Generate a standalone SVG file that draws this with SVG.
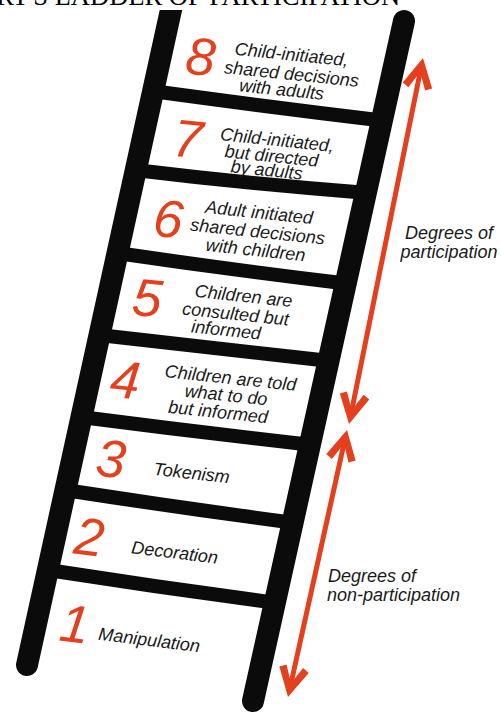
<svg xmlns="http://www.w3.org/2000/svg" width="501" height="718" viewBox="0 0 501 718">
<defs>
<style>
.rail{stroke:#0b0b0b;stroke-width:22;stroke-linecap:round;fill:none}
.rung{stroke:#0b0b0b;stroke-width:14;fill:none;stroke-linecap:butt}
.num{font-family:"Liberation Sans",Arial,sans-serif;font-style:italic;font-size:53px;fill:#e4401e;text-anchor:middle}
.txt{font-family:"Liberation Sans",Arial,sans-serif;font-style:italic;font-size:18px;fill:#1a1a1a;text-anchor:middle}
.lbl{font-family:"Liberation Sans",Arial,sans-serif;font-style:italic;font-size:18px;fill:#1a1a1a}
.arrow{stroke:#e4401e;stroke-width:5;fill:none;marker-start:url(#head);marker-end:url(#head)}
.title{font-family:"Liberation Serif","Times New Roman",serif;font-size:26.5px;fill:#000}
</style>
<marker id="head" viewBox="-34 -17 36 34" markerWidth="36" markerHeight="34" refX="-7" refY="0" orient="auto-start-reverse" markerUnits="userSpaceOnUse">
<polygon points="0,0 -28,-15 -31.5,-8.5 -14,0 -31.5,8.5 -28,15" fill="#e4401e"/>
</marker>
<clipPath id="clipTop"><rect x="0" y="10" width="501" height="708"/></clipPath>
</defs>
<rect width="501" height="718" fill="#fff"/>
<text id="title" class="title" x="-42" y="5">HART'S LADDER OF PARTICIPATION</text>
<g id="ladder">
<line class="rail" x1="172.5" y1="3" x2="27" y2="665" clip-path="url(#clipTop)"/>
<line class="rail" x1="404" y1="21" x2="253" y2="701"/>
<path class="rung" d="M152,91 Q269,107 386,121"/>
<path class="rung" d="M135,170 Q250,184 368,193"/>
<path class="rung" d="M117,253 Q233,270 350,284"/>
<path class="rung" d="M99,335 Q215,348 330,361"/>
<path class="rung" d="M81,417 Q197,432 312,445"/>
<path class="rung" d="M65,490 Q181,508 295,523"/>
<path class="rung" d="M48,570 Q163,588 278,603"/>
</g>
<g id="step8">
<text class="num" transform="translate(199 75) rotate(5.5)">8</text>
<text class="txt" transform="translate(291 60.5) rotate(5.8)">Child-initiated,</text>
<text class="txt" transform="translate(291 80) rotate(5.8)">shared decisions</text>
<text class="txt" transform="translate(281 95.5) rotate(5.8)">with adults</text>
</g>
<g id="step7">
<text class="num" transform="translate(186 157) rotate(6)">7</text>
<text class="txt" transform="translate(276.5 146) rotate(6)">Child-initiated,</text>
<text class="txt" transform="translate(271 162) rotate(6)">but directed</text>
<text class="txt" transform="translate(266 176) rotate(6)">by adults</text>
</g>
<g id="step6">
<text class="num" transform="translate(166.5 237) rotate(6)">6</text>
<text class="txt" transform="translate(258.5 218.5) rotate(6)">Adult initiated</text>
<text class="txt" transform="translate(257 237.5) rotate(6)">shared decisions</text>
<text class="txt" transform="translate(255 256) rotate(6)">with children</text>
</g>
<g id="step5">
<text class="num" transform="translate(145.5 316) rotate(6)">5</text>
<text class="txt" transform="translate(243 302) rotate(6)">Children are</text>
<text class="txt" transform="translate(235 320) rotate(6)">consulted but</text>
<text class="txt" transform="translate(225.5 336) rotate(6)">informed</text>
</g>
<g id="step4">
<text class="num" transform="translate(123.5 398) rotate(6)">4</text>
<text class="txt" transform="translate(230 384) rotate(6)">Children are told</text>
<text class="txt" transform="translate(225.5 401) rotate(6)">what to do</text>
<text class="txt" transform="translate(217.5 418) rotate(6)">but informed</text>
</g>
<g id="step3">
<text class="num" transform="translate(109 477) rotate(6.5)">3</text>
<text class="txt" transform="translate(191 479) rotate(6.5)">Tokenism</text>
</g>
<g id="step2">
<text class="num" transform="translate(87 555) rotate(7)">2</text>
<text class="txt" transform="translate(174 558.5) rotate(7)">Decoration</text>
</g>
<g id="step1">
<text class="num" transform="translate(72.5 642) rotate(7)">1</text>
<text class="txt" transform="translate(148.5 646) rotate(7)">Manipulation</text>
</g>
<g id="label-participation">
<text class="lbl" x="449" y="239" text-anchor="middle">Degrees of</text>
<text class="lbl" x="449" y="257.5" text-anchor="middle">participation</text>
</g>
<g id="label-nonparticipation">
<text class="lbl" x="328" y="582">Degrees of</text>
<text class="lbl" x="327" y="601">non-participation</text>
</g>
<g id="connectors">
<path class="arrow" d="M421.6,64.9 L350.4,417.1"/>
<path class="arrow" d="M345.5,436.8 L289.5,690.2"/>
</g>
</svg>
